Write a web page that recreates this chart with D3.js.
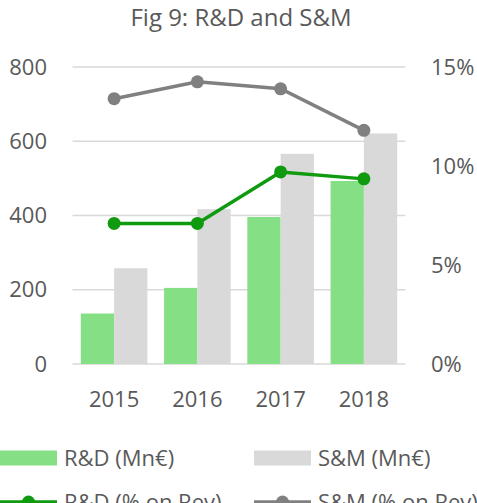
<!DOCTYPE html>
<html>
<head>
<meta charset="utf-8">
<script src="https://cdn.jsdelivr.net/npm/d3@7"></script>
<style>
  body { margin: 0; background: #fff; }
  text { font-family: "Open Sans", sans-serif; fill: #595959; }
</style>
</head>
<body>
<script>
var w = 477;
var h = 503;

var years = ["2015", "2016", "2017", "2018"];
var rdMn = [136, 205, 396, 493];
var smMn = [258, 417, 566, 621];
var rdPct = [7.1, 7.1, 9.7, 9.35];
var smPct = [13.4, 14.25, 13.9, 11.8];
var leftTicks = [0, 200, 400, 600, 800];
var rightTicks = [0, 5, 10, 15];

var green = "#85e085", grey = "#d9d9d9";
var greenLine = "#0f9a0f", greyLine = "#808080";

var svg = d3.select("body")
        .append("svg")
        .attr("width", w)
        .attr("height", h);

var x = d3.scaleBand()
        .domain(years)
        .range([72.5, 405.5])
        .paddingInner(0.2)
        .paddingOuter(0.1);

var y = d3.scaleLinear().domain([0, 800]).range([364, 67]);
var y2 = d3.scaleLinear().domain([0, 15]).range([364, 67]);

svg.append("text")
        .attr("x", 241)
        .attr("y", 26)
        .attr("text-anchor", "middle")
        .style("font-size", "24px")
        .text("Fig 9: R&D and S&M");

// gridlines
svg.selectAll("line.grid")
        .data(leftTicks)
        .enter()
        .append("line")
        .attr("x1", 72.5)
        .attr("x2", 405.5)
        .attr("y1", function (d) { return y(d); })
        .attr("y2", function (d) { return y(d); })
        .style("stroke", "#d9d9d9")
        .style("stroke-width", 1.3);

// left axis labels
svg.selectAll("text.left")
        .data(leftTicks)
        .enter()
        .append("text")
        .attr("x", 47)
        .attr("y", function (d) { return y(d); })
        .attr("dy", "0.35em")
        .attr("text-anchor", "end")
        .style("font-size", "22px")
        .text(function (d) { return d; });

// right axis labels
svg.selectAll("text.right")
        .data(rightTicks)
        .enter()
        .append("text")
        .attr("x", 431)
        .attr("y", function (d) { return y2(d); })
        .attr("dy", "0.35em")
        .style("font-size", "22px")
        .text(function (d) { return d + "%"; });

// year labels
svg.selectAll("text.year")
        .data(years)
        .enter()
        .append("text")
        .attr("x", function (d) { return x(d) + x.bandwidth() / 2; })
        .attr("y", 399)
        .attr("dy", "0.35em")
        .attr("text-anchor", "middle")
        .style("font-size", "22px")
        .text(function (d) { return d; });

var bw = x.bandwidth() / 2;

svg.selectAll("rect.rd")
        .data(rdMn)
        .enter()
        .append("rect")
        .attr("x", function (d, i) { return x(years[i]); })
        .attr("y", function (d) { return y(d); })
        .attr("width", bw)
        .attr("height", function (d) { return y(0) - y(d); })
        .style("fill", green);

svg.selectAll("rect.sm")
        .data(smMn)
        .enter()
        .append("rect")
        .attr("x", function (d, i) { return x(years[i]) + bw; })
        .attr("y", function (d) { return y(d); })
        .attr("width", bw)
        .attr("height", function (d) { return y(0) - y(d); })
        .style("fill", grey);

function drawLine(vals, col) {
    var line = d3.line()
            .x(function (d, i) { return x(years[i]) + x.bandwidth() / 2; })
            .y(function (d) { return y2(d); });
    svg.append("path")
            .datum(vals)
            .attr("d", line)
            .style("fill", "none")
            .style("stroke", col)
            .style("stroke-width", 3.5);
    svg.selectAll(null)
            .data(vals)
            .enter()
            .append("circle")
            .attr("cx", function (d, i) { return x(years[i]) + x.bandwidth() / 2; })
            .attr("cy", function (d) { return y2(d); })
            .attr("r", 6.5)
            .style("fill", col);
}
drawLine(rdPct, greenLine);
drawLine(smPct, greyLine);

// legend
var leg = [
    {label: "R&D (Mn€)", x: 0, y: 458, type: "bar", col: green},
    {label: "S&M (Mn€)", x: 254, y: 458, type: "bar", col: grey},
    {label: "R&D (% on Rev)", x: 0, y: 502, type: "line", col: greenLine},
    {label: "S&M (% on Rev)", x: 254, y: 502, type: "line", col: greyLine}
];
leg.forEach(function (d) {
    if (d.type === "bar") {
        svg.append("rect")
                .attr("x", d.x)
                .attr("y", d.y - 7.5)
                .attr("width", 57)
                .attr("height", 15)
                .style("fill", d.col);
    } else {
        svg.append("line")
                .attr("x1", d.x)
                .attr("x2", d.x + 57)
                .attr("y1", d.y)
                .attr("y2", d.y)
                .style("stroke", d.col)
                .style("stroke-width", 3.5);
        svg.append("circle")
                .attr("cx", d.x + 28.5)
                .attr("cy", d.y)
                .attr("r", 6.5)
                .style("fill", d.col);
    }
    svg.append("text")
            .attr("x", d.x + 64)
            .attr("y", d.y)
            .attr("dy", "0.35em")
            .style("font-size", "22px")
            .text(d.label);
});
</script>
</body>
</html>
